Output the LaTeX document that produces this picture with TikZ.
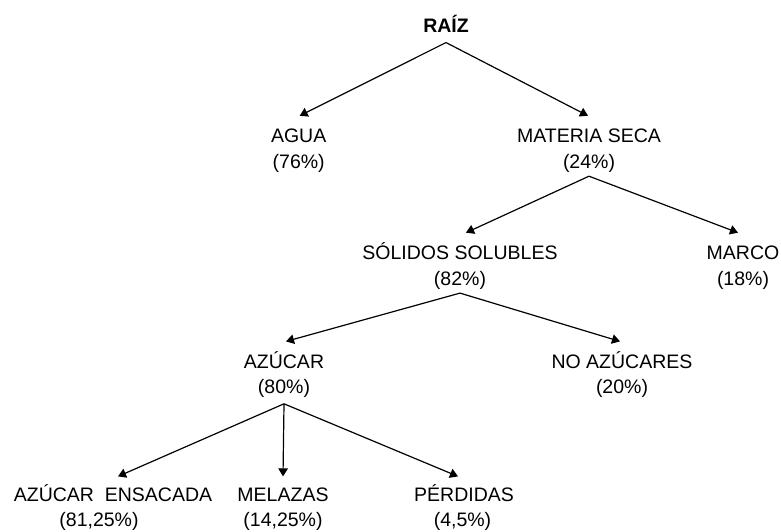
\documentclass[tikz,border=0pt]{standalone}
\usepackage{fontspec}
\setmainfont{Liberation Sans}
\usetikzlibrary{arrows.meta}
\begin{document}
\begin{tikzpicture}[x=1pt,y=-1pt,
  lbl/.style={inner sep=0pt, font=\fontsize{19.5}{25.5}\selectfont},
  arr/.style={line width=1.2pt, -{Triangle[length=8pt,width=9.5pt]}}]
\useasboundingbox (0,0) rectangle (781,531);
\newcommand{\twol}[2]{\setlength{\tabcolsep}{0pt}\begin{tabular}{c}#1\\#2\end{tabular}}
\node[lbl] (raiz) at (446,27.6) {\setlength{\tabcolsep}{0pt}\begin{tabular}{c}\textbf{RAÍZ}\end{tabular}};
\node[lbl] (agua) at (298.7,150.5) {\twol{AGUA}{(76\%)}};
\node[lbl] (mat) at (589,150.5) {\twol{MATERIA SECA}{(24\%)}};
\node[lbl] (sol) at (460,267.4) {\twol{SÓLIDOS SOLUBLES}{(82\%)}};
\node[lbl] (marco) at (743,267.4) {\twol{MARCO}{(18\%)}};
\node[lbl] (azu) at (284,376.1) {\twol{AZÚCAR}{(80\%)}};
\node[lbl] (noaz) at (622,376.1) {\twol{NO AZÚCARES}{(20\%)}};
\node[lbl] (ens) at (113,509.1) {\twol{AZÚCAR\ \ ENSACADA}{(81,25\%)\hspace*{28pt}}};
\node[lbl] (mel) at (283,509.1) {\twol{MELAZAS}{(14,25\%)}};
\node[lbl] (per) at (464,509.1) {\twol{PÉRDIDAS}{(4,5\%)\hspace*{3pt}}};
\draw[arr] ([yshift=-2pt]raiz.south) -- ([xshift=1pt,yshift=9pt]agua.north);
\draw[arr] ([yshift=-2pt]raiz.south) -- ([xshift=-1pt,yshift=9pt]mat.north);
\draw[arr] (mat.south) -- ([xshift=6pt,yshift=9pt]sol.north);
\draw[arr] (mat.south) -- ([xshift=-5pt,yshift=9pt]marco.north);
\draw[arr] (sol.south) -- ([xshift=2pt,yshift=9pt]azu.north);
\draw[arr] (sol.south) -- ([xshift=-2pt,yshift=9pt]noaz.north);
\draw[arr] ([yshift=-2pt]azu.south) -- ([xshift=5pt,yshift=7pt]ens.north);
\draw[arr] ([yshift=-2pt]azu.south) -- ([yshift=7pt]mel.north);
\draw[arr] ([yshift=-2pt]azu.south) -- ([xshift=-6pt,yshift=7pt]per.north);
\end{tikzpicture}
\end{document}
